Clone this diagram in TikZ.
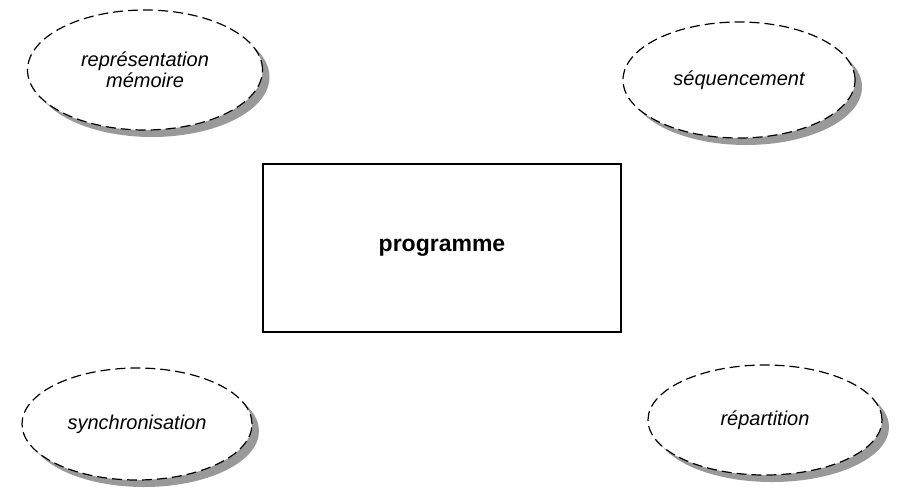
\documentclass[tikz,border=0pt]{standalone}
\usepackage{fontspec}
\setmainfont{Liberation Sans}
\usetikzlibrary{shapes.geometric, shadows}

\begin{document}
\begin{tikzpicture}[
    x=0.5pt, y=-0.5pt,
    theme/.style={
        ellipse,
        draw,
        dashed,
        dash pattern=on 5pt off 2.5pt,
        line width=0.6pt,
        fill=white,
        inner sep=0pt,
        align=center,
        font=\fontsize{10}{10.5}\selectfont\itshape,
        drop shadow={shadow xshift=3.5pt, shadow yshift=-3.5pt,
                     fill=black!40, opacity=1}
    },
    core/.style={
        draw,
        line width=0.6pt,
        minimum width=179pt,
        minimum height=84pt,
        font=\fontsize{11.5}{13}\selectfont\bfseries
    }
]
\useasboundingbox (0,0) rectangle (897,493);

\node[theme, minimum width=117.5pt, minimum height=60pt] (memoire) at (145,70) {représentation\\mémoire};
\node[theme, minimum width=116pt, minimum height=58pt] (sequence) at (739,80) {séquencement};
\node[theme, minimum width=115pt, minimum height=56pt] (synchro) at (137,424) {synchronisation};
\node[theme, minimum width=117pt, minimum height=55pt] (repart) at (765,420) {répartition};

\node[core] (prog) at (442,248) {programme};
\end{tikzpicture}
\end{document}
